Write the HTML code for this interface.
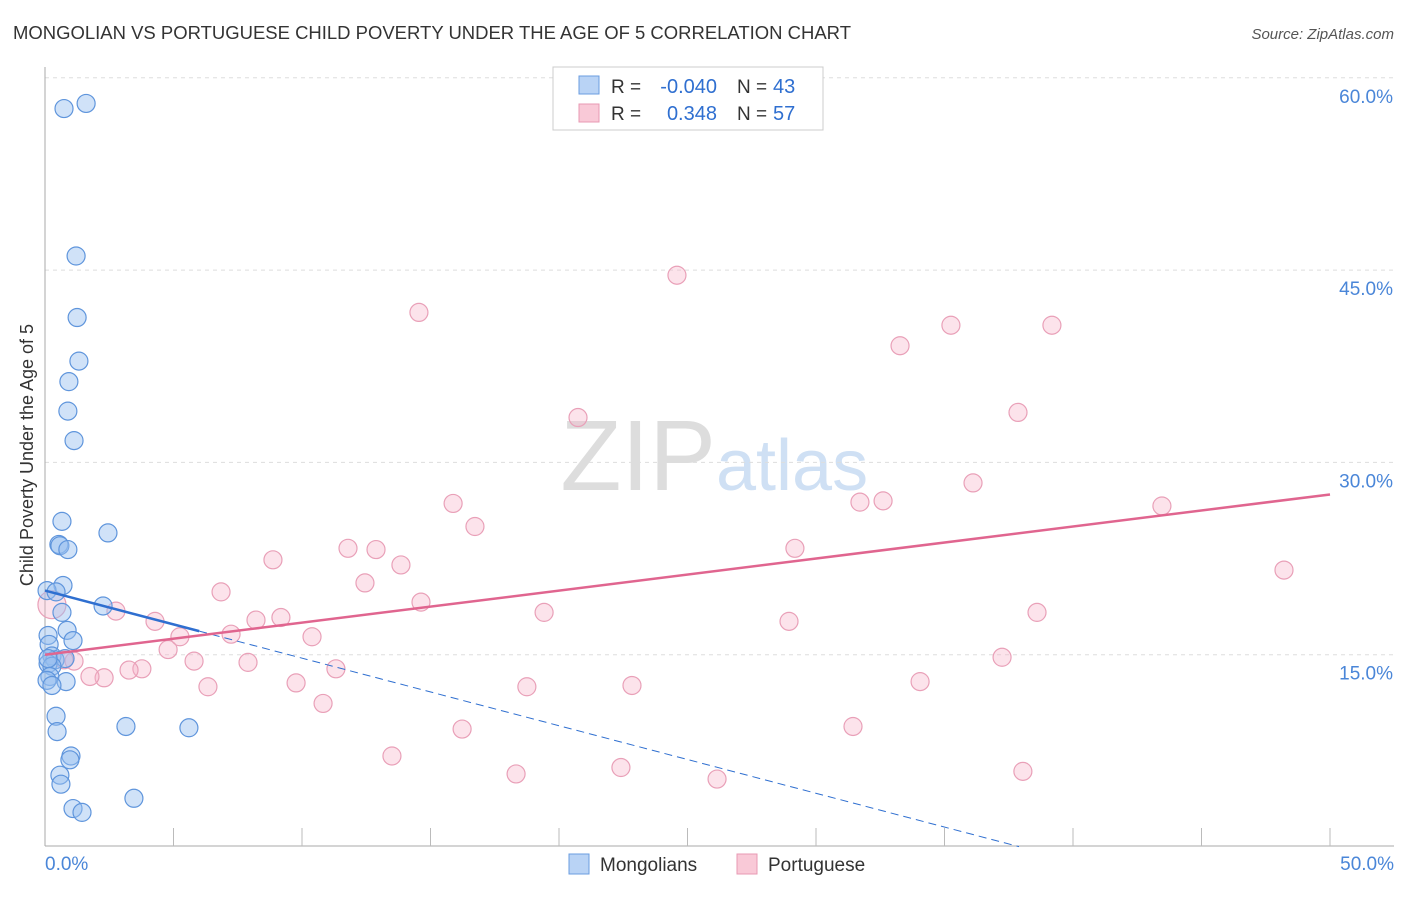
<!DOCTYPE html>
<html><head><meta charset="utf-8"><style>
body{margin:0;background:#fff;font-family:"Liberation Sans",sans-serif;}
svg text{font-family:"Liberation Sans",sans-serif;}
</style></head><body>
<svg id="chart" width="1406" height="892">
<text x="13" y="39" font-size="18" fill="#333" textLength="838" lengthAdjust="spacingAndGlyphs">MONGOLIAN VS PORTUGUESE CHILD POVERTY UNDER THE AGE OF 5 CORRELATION CHART</text>
<text x="1394" y="39" font-size="15" fill="#555" font-style="italic" text-anchor="end">Source: ZipAtlas.com</text>
<text x="716" y="490" font-size="100" fill="#ddd" text-anchor="end" font-family="Liberation Serif">ZIP</text>
<text x="716" y="490" font-size="72" fill="#cfe0f4">atlas</text>
<g id="grid"></g><g id="axes"></g><g id="marks"></g>
<text transform="translate(33,455) rotate(-90)" font-size="18" fill="#333" text-anchor="middle">Child Poverty Under the Age of 5</text>
<g>
<rect x="553" y="67" width="270" height="63" fill="#fff" stroke="#ccc"/>
<rect x="579" y="76" width="20" height="18" fill="#b9d3f5" stroke="#6a9de0"/>
<rect x="579" y="104" width="20" height="18" fill="#f9c9d7" stroke="#e899b3"/>
<text x="611" y="93" font-size="19" fill="#333">R =</text>
<text x="717" y="93" font-size="20" fill="#2f6fd0" text-anchor="end">-0.040</text>
<text x="737" y="93" font-size="19" fill="#333">N =</text>
<text x="773" y="93" font-size="20" fill="#2f6fd0">43</text>
<text x="611" y="120" font-size="19" fill="#333">R =</text>
<text x="717" y="120" font-size="20" fill="#2f6fd0" text-anchor="end">0.348</text>
<text x="737" y="120" font-size="19" fill="#333">N =</text>
<text x="773" y="120" font-size="20" fill="#2f6fd0">57</text>
</g>
<g>
<rect x="569" y="854" width="20" height="20" fill="#b9d3f5" stroke="#6a9de0"/>
<text x="600" y="871" font-size="19" fill="#333">Mongolians</text>
<rect x="737" y="854" width="20" height="20" fill="#f9c9d7" stroke="#e899b3"/>
<text x="768" y="871" font-size="19" fill="#333">Portuguese</text>
</g>
</svg>
<script>
const blueX=[0.74,1.60,1.21,1.25,1.32,0.93,0.89,1.13,0.66,0.54,0.58,0.89,2.45,0.70,0.08,0.43,0.66,2.26,0.86,1.09,0.12,0.16,0.27,0.39,0.78,0.12,0.27,0.19,0.08,0.82,0.27,0.43,0.47,3.15,5.60,1.01,0.97,0.58,0.62,1.09,1.44,3.46,0.12];
const blueY=[57.6,58.0,46.1,41.3,37.9,36.3,34.0,31.7,25.4,23.6,23.5,23.2,24.5,20.4,20.0,19.9,18.3,18.8,16.9,16.1,16.5,15.8,14.9,14.6,14.7,14.3,14.1,13.3,13.0,12.9,12.6,10.2,9.0,9.4,9.3,7.1,6.8,5.6,4.9,3.0,2.7,3.8,14.7];
const pinkX=[0.27,2.76,4.28,5.25,7.24,6.85,8.21,9.18,10.39,8.87,11.79,12.88,13.85,12.45,14.63,15.88,16.73,19.42,20.74,14.55,24.59,33.27,35.25,39.18,37.86,36.11,31.71,32.61,43.46,48.21,29.18,28.95,38.60,37.24,34.05,31.44,38.05,26.15,22.41,22.84,18.33,18.75,16.23,13.50,10.82,9.77,11.32,7.90,5.80,4.79,6.34,3.77,3.27,2.30,1.75,1.13,0.74];
const pinkY=[18.9,18.4,17.6,16.4,16.6,19.9,17.7,17.9,16.4,22.4,23.3,23.2,22.0,20.6,19.1,26.8,25.0,18.3,33.5,41.7,44.6,39.1,40.7,40.7,33.9,28.4,26.9,27.0,26.6,21.6,23.3,17.6,18.3,14.8,12.9,9.4,5.9,5.3,6.2,12.6,5.7,12.5,9.2,7.1,11.2,12.8,13.9,14.4,14.5,15.4,12.5,13.9,13.8,13.2,13.3,14.5,14.6];
const yTicks=[15,30,45,60];
const yTickLabels=["15.0%","30.0%","45.0%","60.0%"];
const xTickLabels=["0.0%","50.0%"];
const blueTrend=[20.0,-0.527];
const pinkTrend=[15.0,0.25];
const NS="http://www.w3.org/2000/svg";
const sx=v=>45+v*25.7, sy=v=>847-v*12.82;
function mk(p,t,a){const e=document.createElementNS(NS,t);for(const k in a)e.setAttribute(k,a[k]);p.appendChild(e);return e;}
const grid=document.getElementById('grid'),axes=document.getElementById('axes'),marks=document.getElementById('marks');
yTicks.forEach((t,i)=>{
 const l=mk(grid,'line',{x1:45,x2:1394,y1:sy(t),y2:sy(t),stroke:'#ddd','stroke-dasharray':'4,4'});
 
 
 const tx=mk(axes,'text',{x:1393,y:sy(t)+25,'font-size':19,fill:'#4a86d8','text-anchor':'end'});tx.textContent=yTickLabels[i];
 
 
});
mk(axes,'line',{x1:45,x2:45,y1:67,y2:846,stroke:'#aaa'});
mk(axes,'line',{x1:45,x2:1394,y1:846,y2:846,stroke:'#aaa'});
for(let i=1;i<=10;i++){mk(axes,'line',{x1:45+i*128.5,x2:45+i*128.5,y1:828,y2:846,stroke:'#bbb'});}
const xl0=mk(axes,'text',{x:45,y:870,'font-size':19,fill:'#4a86d8'});xl0.textContent=xTickLabels[0];


const xl1=mk(axes,'text',{x:1394,y:870,'font-size':19,fill:'#4a86d8','text-anchor':'end'});xl1.textContent=xTickLabels[1];


pinkX.forEach((x,i)=>{const c=mk(marks,'circle',{cx:sx(x),cy:sy(pinkY[i]),r:i==0?14:9,fill:'rgba(245,175,198,0.35)',stroke:'#e9a0b8','stroke-width':1.2});
 
 });
blueX.forEach((x,i)=>{const c=mk(marks,'circle',{cx:sx(x),cy:sy(blueY[i]),r:9,fill:'rgba(150,190,240,0.45)',stroke:'#5f95dc','stroke-width':1.2});
 
 });
const bl=mk(marks,'line',{x1:sx(0),y1:sy(blueTrend[0]),x2:sx(6),y2:sy(blueTrend[0]+blueTrend[1]*6),stroke:'#2f6fd0','stroke-width':2.5});


const bd=mk(marks,'line',{x1:sx(6),y1:sy(blueTrend[0]+blueTrend[1]*6),x2:sx(37.9),y2:sy(blueTrend[0]+blueTrend[1]*37.9),stroke:'#2f6fd0','stroke-width':1,'stroke-dasharray':'8,5'});


const pl=mk(marks,'line',{x1:sx(0),y1:sy(pinkTrend[0]),x2:sx(50),y2:sy(pinkTrend[0]+pinkTrend[1]*50),stroke:'#e0658f','stroke-width':2.5});


</script>
</body></html>
